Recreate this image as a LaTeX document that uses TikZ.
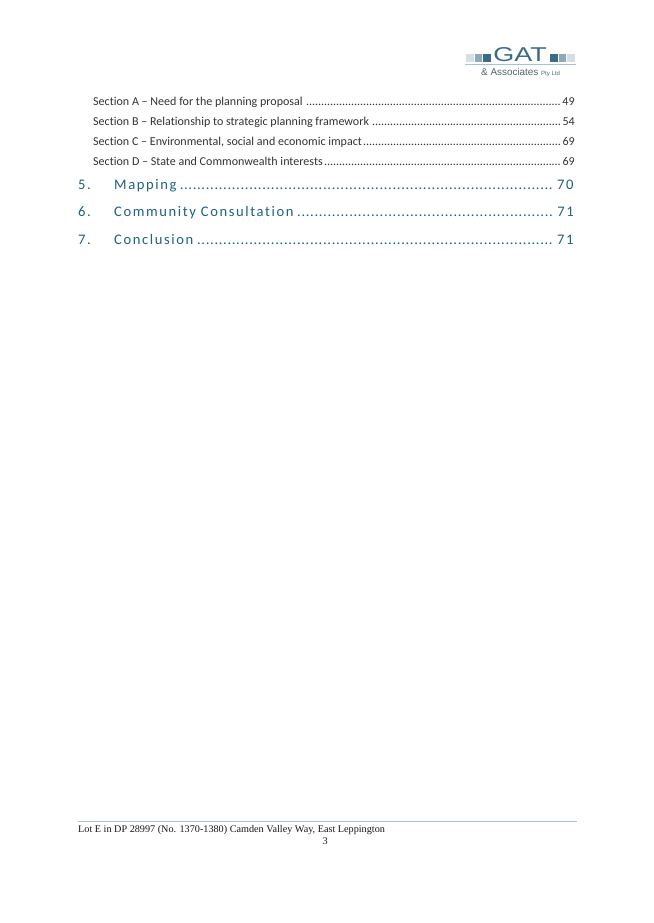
\documentclass[tikz,border=0pt]{standalone}
\usepackage{fontspec}
\setmainfont[Ligatures=NoCommon]{Carlito}
\newfontfamily\headfont[LetterSpace=11,Ligatures=NoCommon]{Carlito}
\newfontfamily\footfont{Liberation Serif}
\newfontfamily\logofont{Liberation Sans}
\usepackage{tikz}
\definecolor{headblue}{HTML}{1F6282}
\definecolor{rowgrey}{HTML}{333333}
\definecolor{ruleblue}{HTML}{A9C2D2}
\definecolor{logodark}{HTML}{3A6B88}
\definecolor{logomid}{HTML}{8FA9B9}
\definecolor{logolight}{HTML}{D3DEE5}
\definecolor{logotext}{HTML}{4F6675}
\newcommand{\rowdots}{\leaders\hbox to 3pt{\hss.\hss}\hfill}
\newcommand{\headdots}{\leaders\hbox to 4.35pt{\hss.\hss}\hfill}
\tikzset{
  secrow/.style={anchor=base west,inner sep=0pt,text=rowgrey,font=\fontsize{12.05pt}{14pt}\selectfont},
  headrow/.style={anchor=base west,inner sep=0pt,text=headblue,font=\fontsize{14.6pt}{17pt}\headfont},
  footrow/.style={anchor=base west,inner sep=0pt,text=black!90,font=\fontsize{10.2pt}{12pt}\footfont},
  logosq/.style={minimum width=7.5pt,minimum height=7.5pt,inner sep=0pt,anchor=north west}
}
\begin{document}
\begin{tikzpicture}[x=1pt,y=1pt]
  \useasboundingbox[fill=white] (0,0) rectangle (653,-923);
  % logo
  \foreach \x/\c in {466/logolight,474.5/logomid,483/logodark,550/logodark,558.5/logomid,567/logolight}
    \node[logosq,fill=\c] (sq\x) at (\x,-54) {};
  \node[inner sep=0pt,anchor=base,text=logodark,font=\fontsize{20pt}{20pt}\logofont] (gat) at (520,-61.5) {\scalebox{1.35}[1]{GAT}};
  \coordinate (ruleleft) at (465,-64.5);
  \coordinate (ruleright) at (576,-64.5);
  \draw[ruleblue,line width=0.9pt] (ruleleft) -- (ruleright);
  \node[anchor=base west,inner sep=0pt,text=logotext,font=\fontsize{9.9pt}{10pt}\logofont] (assoc) at (481,-76) {\& Associates};
  \node[anchor=base west,inner sep=0pt,text=logotext,font=\fontsize{6pt}{6pt}\logofont] (pty) at (541,-76) {Pty Ltd};
  % section rows
  \foreach \n/\t/\p/\y in {a/Section A -- Need for the planning proposal/49/105.4,
      b/Section B -- Relationship to strategic planning framework/54/125.4,
      c/{Section C -- Environmental, social and economic impact}/69/145.4,
      d/Section D -- State and Commonwealth interests/69/165.6}
    \node[secrow] (row\n) at (93,-\y) {\makebox[482pt][s]{\t\hskip 1pt\rowdots\hskip 1.5pt\p}};
  % headings
  \foreach \n/\t/\p/\y in {5/Mapping/70/189,6/Community Consultation/71/216,7/Conclusion/71/244}
    {
      \node[headrow] (num\n) at (78,-\y) {\n.};
      \node[headrow] (head\n) at (114,-\y) {\makebox[460pt][s]{\t\hskip 1pt\headdots\hskip 1pt\p}};
    }
  % footer
  \coordinate (footleft) at (78,-821.5);
  \coordinate (footright) at (577,-821.5);
  \draw[ruleblue,line width=0.9pt] (footleft) -- (footright);
  \node[footrow] (foottext) at (78,-832) {Lot E in DP 28997 (No. 1370-1380) Camden Valley Way, East Leppington};
  \node[footrow] (footpage) at (322.5,-844) {3};
\end{tikzpicture}
\end{document}
